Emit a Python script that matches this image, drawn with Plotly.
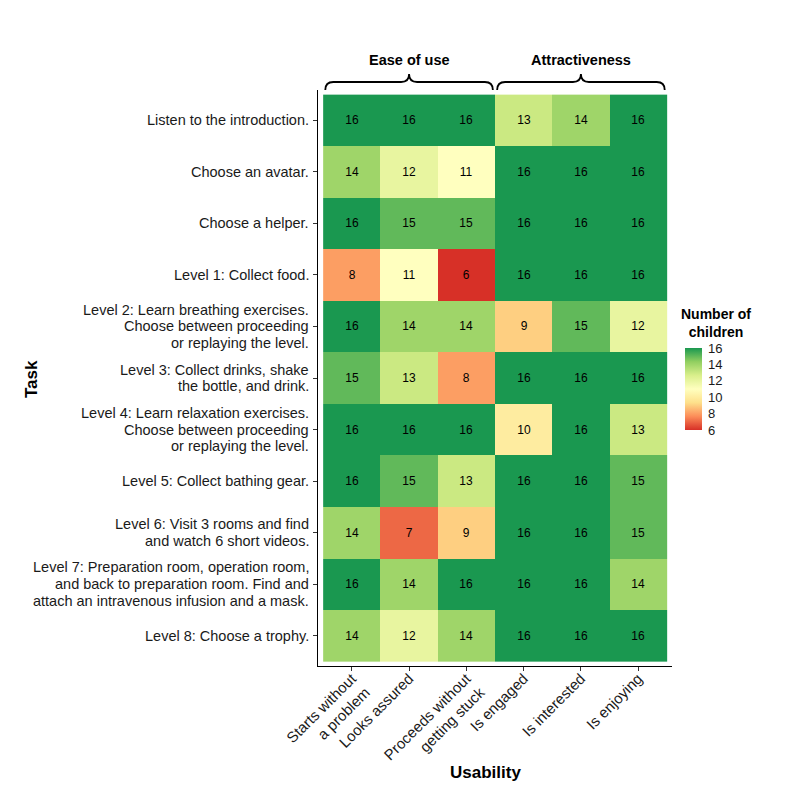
import plotly.graph_objects as go

tasks = [
    "Listen to the introduction.",
    "Choose an avatar.",
    "Choose a helper.",
    "Level 1: Collect food.",
    "Level 2: Learn breathing exercises.<br>Choose between proceeding<br>or replaying the level.",
    "Level 3: Collect drinks, shake<br>the bottle, and drink.",
    "Level 4: Learn relaxation exercises.<br>Choose between proceeding<br>or replaying the level.",
    "Level 5: Collect bathing gear.",
    "Level 6: Visit 3 rooms and find<br>and watch 6 short videos.",
    "Level 7: Preparation room, operation room,<br>and back to preparation room. Find and<br>attach an intravenous infusion and a mask.",
    "Level 8: Choose a trophy.",
]
criteria = [
    "Starts without<br>a problem",
    "Looks assured",
    "Proceeds without<br>getting stuck",
    "Is engaged",
    "Is interested",
    "Is enjoying",
]
groups = ["Ease of use", "Attractiveness"]
values = [
    [16, 16, 16, 13, 14, 16],
    [14, 12, 11, 16, 16, 16],
    [16, 15, 15, 16, 16, 16],
    [8, 11, 6, 16, 16, 16],
    [16, 14, 14, 9, 15, 12],
    [15, 13, 8, 16, 16, 16],
    [16, 16, 16, 10, 16, 13],
    [16, 15, 13, 16, 16, 15],
    [14, 7, 9, 16, 16, 15],
    [16, 14, 16, 16, 16, 14],
    [14, 12, 14, 16, 16, 16],
]
cbar_ticks = [6, 8, 10, 12, 14, 16]

OFF = 8  # page body margin
W, H = 799 - OFF, 800 - OFF
L, T = 318 - OFF, 90 - OFF
R = W - (672 - OFF)
B = H - (666 - OFF)
pw, ph = W - L - R, H - T - B
pad = 0.09
xr = [-0.5 - pad, len(criteria) - 0.5 + pad]
yr = [len(tasks) - 0.5 + pad, -0.5 - pad]

def xp(x):  # data x -> paper
    return (x - xr[0]) / (xr[1] - xr[0])

def ypx(py):  # page pixel y -> paper
    return (H - B - (py - OFF)) / ph

def xpx(px):  # page pixel x -> paper
    return (px - OFF - L) / pw

colors = ["#d73027", "#fc8d59", "#fee08b", "#ffffbf", "#d9ef8b", "#91cf60", "#1a9850"]
cs = [[i / (len(colors) - 1), c] for i, c in enumerate(colors)]

font = "Liberation Sans, Arial, Helvetica, sans-serif"
TXT = "#1a1a1a"

cb_top, cb_bot = 348, 430
fig = go.Figure(go.Heatmap(
    z=values,
    x=list(range(len(criteria))),
    y=list(range(len(tasks))),
    colorscale=cs, zmin=6, zmax=16,
    texttemplate="%{z}", textfont=dict(size=12, color="black", family=font),
    colorbar=dict(
        tickvals=cbar_ticks, ticks="outside", ticklen=4, tickcolor="rgba(0,0,0,0)",
        tickfont=dict(size=13, family=font, color=TXT),
        thickness=17, len=cb_bot - cb_top, lenmode="pixels",
        x=xpx(685), xanchor="left", y=ypx((cb_top + cb_bot) / 2), yanchor="middle",
        outlinewidth=0, ypad=0, xpad=0,
    ),
    hoverongaps=False,
))

shapes = []
annotations = []
# braces
y_end, y_mid, y_tip = 90, 82, 74
for gi, (a, b) in enumerate([(0, 2), (3, 5)]):
    x0 = xp(a - 0.5) + 0.006
    x1 = xp(b + 0.5) - 0.006
    xm = (x0 + x1) / 2
    r = 8 / pw
    ye, ym, yt = ypx(y_end), ypx(y_mid), ypx(y_tip)
    path = (f"M {x0},{ye} Q {x0},{ym} {x0 + r},{ym} L {xm - r},{ym} "
            f"Q {xm},{ym} {xm},{yt} Q {xm},{ym} {xm + r},{ym} "
            f"L {x1 - r},{ym} Q {x1},{ym} {x1},{ye}")
    shapes.append(dict(type="path", path=path, xref="paper", yref="paper",
                       line=dict(color="black", width=1.8)))
    annotations.append(dict(text=f"<b>{groups[gi]}</b>", x=xm, y=ypx(60), xref="paper", yref="paper",
                            showarrow=False, font=dict(size=14.5, family=font, color="black"),
                            xanchor="center", yanchor="middle"))

# y tick labels, one annotation per line (tight line spacing)
LS = 16.6
for i, t in enumerate(tasks):
    lines = t.split("<br>")
    n = len(lines)
    for k, ln in enumerate(lines):
        annotations.append(dict(text=ln, x=0, y=i, xref="paper", yref="y",
                                xanchor="right", yanchor="middle", xshift=-8,
                                yshift=-(k - (n - 1) / 2) * LS, showarrow=False,
                                borderpad=0,
                                font=dict(size=14.5, family=font, color=TXT)))

annotations.append(dict(text="<b>Number of<br>children</b>", x=xpx(716), y=ypx(323), xref="paper", yref="paper",
                        showarrow=False, align="center", font=dict(size=14, family=font, color="black"),
                        xanchor="center", yanchor="middle"))
annotations.append(dict(text="<b>Task</b>", x=xpx(31), y=ypx(379), xref="paper", yref="paper",
                        textangle=-90, showarrow=False, font=dict(size=17, family=font, color="black"),
                        xanchor="center", yanchor="middle"))
annotations.append(dict(text="<b>Usability</b>", x=xpx(485), y=ypx(772), xref="paper", yref="paper",
                        showarrow=False, font=dict(size=17, family=font, color="black"),
                        xanchor="center", yanchor="middle"))

fig.update_layout(
    width=W, height=H,
    margin=dict(l=L, r=R, t=T, b=B, autoexpand=False),
    plot_bgcolor="white", paper_bgcolor="white",
    font=dict(family=font, color=TXT),
    shapes=shapes, annotations=annotations,
)
fig.update_xaxes(range=xr, tickvals=list(range(len(criteria))), ticktext=criteria,
                 tickangle=-45, tickfont=dict(size=15, family=font, color=TXT),
                 ticklabelstandoff=-7,
                 showline=True, linecolor="black", linewidth=1, ticks="outside",
                 ticklen=4, tickcolor="#333", showgrid=False, zeroline=False)
fig.update_yaxes(range=yr, tickvals=list(range(len(tasks))), showticklabels=False,
                 showline=True, linecolor="black", linewidth=1, ticks="outside",
                 ticklen=4, tickcolor="#333", showgrid=False, zeroline=False)

fig.write_html("out.html")
